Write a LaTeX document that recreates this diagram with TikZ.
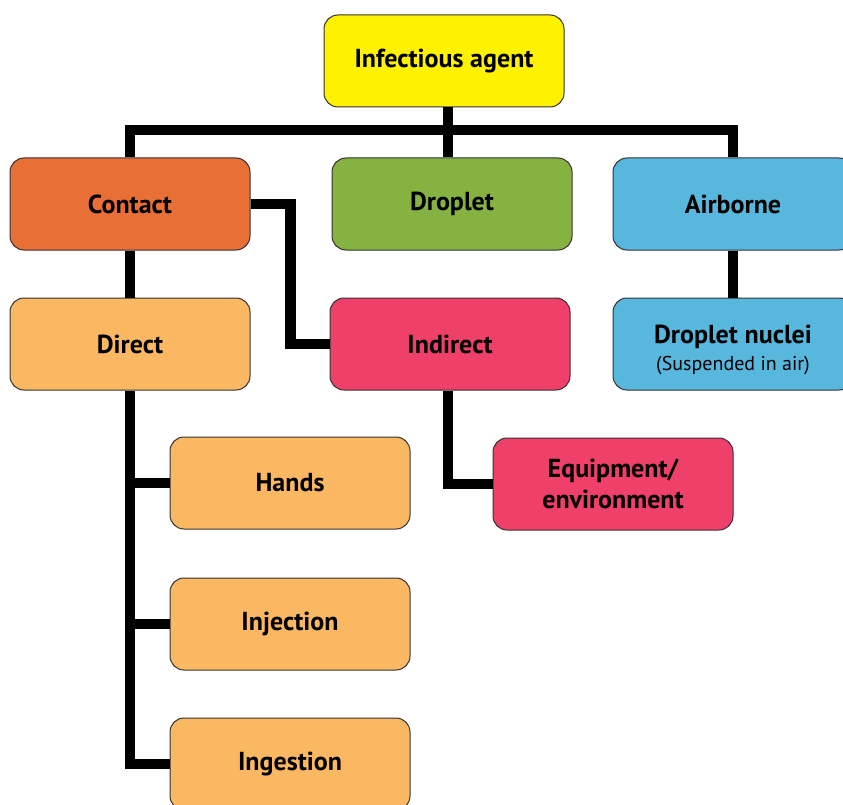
\documentclass[tikz,border=0pt]{standalone}
\usepackage{fontspec}
\setmainfont{PT Sans}
\definecolor{cyellow}{HTML}{FFF200}
\definecolor{corange}{HTML}{E86F36}
\definecolor{cgreen}{HTML}{86B242}
\definecolor{cblue}{HTML}{58B7DD}
\definecolor{clight}{HTML}{FBB862}
\definecolor{cpink}{HTML}{EE4069}
\definecolor{cedge}{HTML}{333333}
\tikzset{
  box/.style={draw=cedge, line width=1pt, rounded corners=14pt, minimum width=240pt, minimum height=92pt, inner sep=2pt, align=center, font=\bfseries\fontsize{26}{31}\selectfont, text=black},
  conn/.style={line width=10.5pt, black, line join=miter, line cap=butt}
}
\begin{document}
\begin{tikzpicture}[x=1pt,y=-1pt]
\useasboundingbox (0,0) rectangle (843,805);
\node[box, fill=cyellow] (agent) at (444,61) {Infectious agent};
\node[box, fill=corange] (contact) at (130,204) {Contact};
\node[box, fill=cgreen] (droplet) at (452,204) {Droplet};
\node[box, fill=cblue] (airborne) at (733,204) {Airborne};
\node[box, fill=clight] (direct) at (130,344) {Direct};
\node[box, fill=cpink] (indirect) at (450,344) {Indirect};
\node[box, fill=cblue, text depth=0pt] (nuclei) at (733,344) {\rule{0pt}{26pt}Droplet nuclei\\[-4pt]{\normalfont\fontsize{20}{24}\selectfont (Suspended in air)}};
\node[box, fill=clight] (hands) at (290,483) {Hands};
\node[box, fill=cpink] (equip) at (613,484) {Equipment/\\environment};
\node[box, fill=clight] (injection) at (290,624) {Injection};
\node[box, fill=clight] (ingestion) at (290,764) {Ingestion};
\coordinate (bar) at (448,130);
\draw[conn] (agent.south -| bar) -- (bar |- droplet.north);
\draw[conn] (contact.north) -- (contact.north |- bar) -- (airborne.north |- bar) -- (airborne.north);
\draw[conn] (contact.south) -- (direct.north);
\draw[conn] (airborne.south) -- (nuclei.north);
\draw[conn] (contact.east) -- ++(40,0) |- (indirect.west);
\draw[conn] (indirect.south -| bar) |- (equip.west);
\draw[conn] (direct.south) -- (direct.south |- ingestion.west) -- (ingestion.west);
\draw[conn] (direct.south |- hands.west) -- (hands.west);
\draw[conn] (direct.south |- injection.west) -- (injection.west);
\end{tikzpicture}
\end{document}
